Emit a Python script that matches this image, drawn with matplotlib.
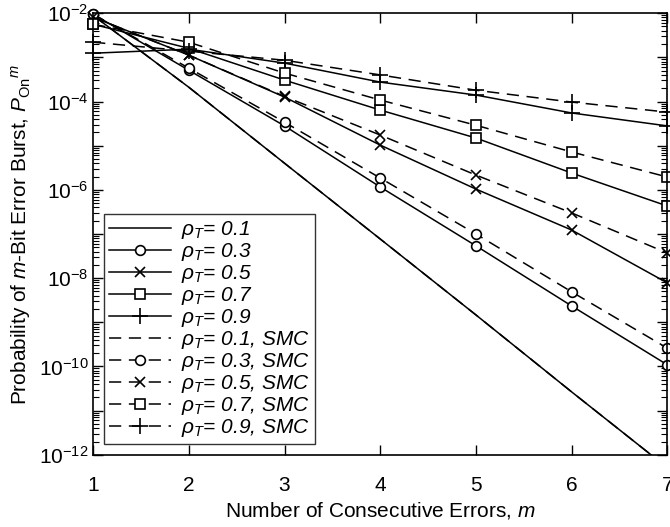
import matplotlib
matplotlib.use("Agg")
import matplotlib.pyplot as plt
from matplotlib.ticker import LogLocator, NullFormatter, FixedLocator, FixedFormatter
import numpy as np

plt.rcParams['font.family'] = ['Liberation Sans', 'DejaVu Sans']
plt.rcParams['mathtext.fontset'] = 'custom'
plt.rcParams['mathtext.rm'] = 'Liberation Sans'
plt.rcParams['mathtext.it'] = 'Liberation Sans:italic'
plt.rcParams['mathtext.bf'] = 'Liberation Sans:bold'

# burst length
m = [1, 2, 3, 4, 5, 6, 7]

# analytic model
p01 = [8.9e-3, 2.1e-4, 4.0e-6, 7.7e-8, 1.47e-9, 2.66e-11, 5.1e-13]
p03 = [9.5e-3, 5.1e-4, 2.8e-5, 1.16e-6, 5.4e-8, 2.35e-9, 1.09e-10]
p05 = [8.1e-3, 1.12e-3, 1.26e-4, 1.03e-5, 1.04e-6, 1.23e-7, 7.8e-9]
p07 = [5.6e-3, 1.6e-3, 3.05e-4, 6.4e-5, 1.49e-5, 2.4e-6, 4.3e-7]
p09 = [1.24e-3, 1.53e-3, 7.4e-4, 2.75e-4, 1.4e-4, 5.5e-5, 2.8e-5]

# SMC
p01_smc = [8.9e-3, 2.1e-4, 4.0e-6, 7.7e-8, 1.47e-9, 2.66e-11, 5.1e-13]
p03_smc = [9.5e-3, 5.7e-4, 3.4e-5, 1.85e-6, 1.0e-7, 4.9e-9, 2.6e-10]
p05_smc = [8.1e-3, 1.12e-3, 1.3e-4, 1.74e-5, 2.16e-6, 3.0e-7, 3.7e-8]
p07_smc = [5.6e-3, 2.2e-3, 4.4e-4, 1.08e-4, 2.9e-5, 7.2e-6, 1.95e-6]
p09_smc = [2.2e-3, 1.38e-3, 8.6e-4, 4.0e-4, 1.8e-4, 9.7e-5, 5.75e-5]

rhos = ['0.1', '0.3', '0.5', '0.7', '0.9']
markers = ['None', 'o', 'x', 's', '+']
msizes = [0, 7, 7, 7.5, 11]

fig = plt.figure(figsize=(6.7, 5.27), dpi=100)
ax = fig.add_axes([0.139, 0.137, 0.857, 0.838])

solid = [p01, p03, p05, p07, p09]
dashed = [p01_smc, p03_smc, p05_smc, p07_smc, p09_smc]

for r, mk, ms, ys in zip(rhos, markers, msizes, solid):
    ax.plot(m, ys, color='k', lw=1.1, marker=mk, ms=ms, mfc='white', mec='k', mew=1.2,
            clip_on=(mk == 'None'), label=r'$\rho_T$= ' + r)
for r, mk, ms, ys in zip(rhos, markers, msizes, dashed):
    ax.plot(m, ys, color='k', lw=1.1, dashes=(8, 5), marker=mk, ms=ms, mfc='white', mec='k',
            mew=1.2, clip_on=(mk == 'None'), label=r'$\rho_T$= ' + r + ', SMC')

ax.set_yscale('log')
ax.set_xlim(1, 7)
ax.set_ylim(1e-12, 1e-2)
ax.set_xticks(m)
ax.set_xticklabels([str(v) for v in m])

major = [10.0 ** e for e in range(-12, -1)]
ax.yaxis.set_major_locator(FixedLocator(major))
ax.yaxis.set_major_formatter(FixedFormatter(
    [r'$10^{%d}$' % e if e % 2 == 0 else '' for e in range(-12, -1)]))
ax.yaxis.set_minor_locator(LogLocator(base=10, subs=np.arange(2, 10), numticks=30))
ax.yaxis.set_minor_formatter(NullFormatter())

ax.tick_params(which='both', direction='in', top=True, right=True, labelsize=15)
ax.tick_params(which='major', length=7, width=1)
ax.tick_params(which='minor', length=4, width=0.8)
ax.tick_params(axis='x', pad=15)
for s in ax.spines.values():
    s.set_linewidth(1.2)

ax.set_xlabel(r'Number of Consecutive Errors, $m$', fontsize=15, labelpad=4)
ax.set_ylabel(r'Probability of $m$-Bit Error Burst, $P_{\mathrm{On}}{}^{m}$', fontsize=15)

leg = ax.legend(loc='lower left', fontsize=15, frameon=True, fancybox=False,
                edgecolor='k', handlelength=3.0, borderpad=0.25, labelspacing=0.0,
                handletextpad=0.45, borderaxespad=0.5)
leg.get_frame().set_linewidth(1.0)
for t in leg.get_texts():
    t.set_fontstyle('italic')

fig.savefig('out.png', dpi=100)
